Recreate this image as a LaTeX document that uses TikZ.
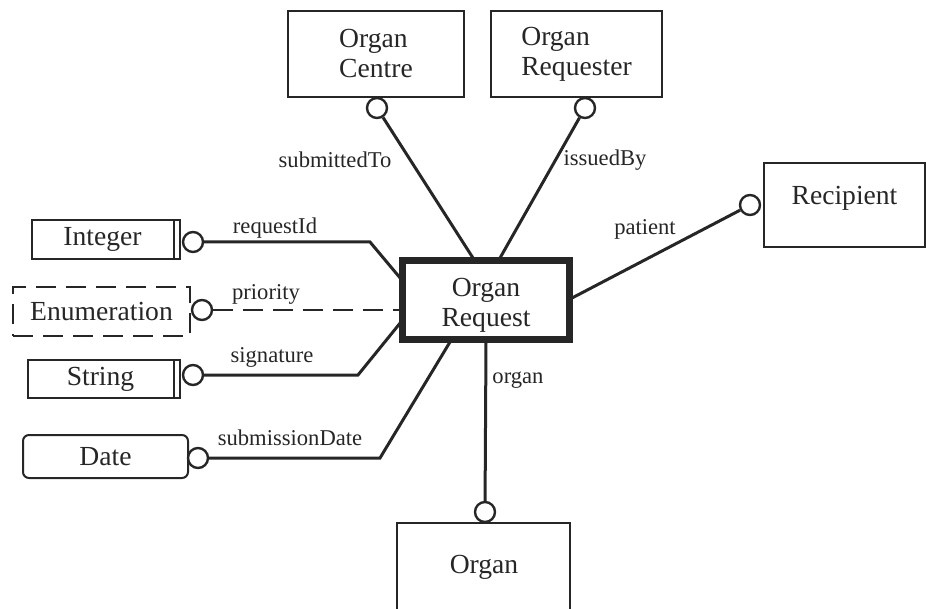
\documentclass[tikz,border=0pt]{standalone}
\usepackage{fontspec}
\setmainfont{Liberation Serif}
\begin{document}
\begin{tikzpicture}[x=0.5pt,y=-0.5pt,
  ink/.style={color=black!85},
  ent/.style={ink, draw, line width=1.2pt, inner sep=0pt, align=left,
    font=\fontsize{13.8}{15}\selectfont},
  hub/.style={ink, draw, line width=3.5pt, inner sep=0pt, align=center,
    font=\fontsize{13.8}{15}\selectfont},
  txt/.style={ink, inner sep=0pt, align=center, font=\fontsize{13.8}{15}\selectfont},
  dashbox/.style={dash pattern=on 10pt off 5pt, line width=1pt},
  knob/.style={ink, circle, draw, line width=1.2pt, fill=white,
    minimum size=10pt, inner sep=0pt},
  link/.style={ink, line width=1.5pt},
  dashlink/.style={ink, line width=1.3pt, dash pattern=on 10pt off 5pt},
  lbl/.style={ink, inner sep=0pt, font=\fontsize{11.3}{13}\selectfont}
]
\useasboundingbox (0,0) rectangle (926,609);

% entity boxes
\node[ent, minimum width=88pt, minimum height=43pt] (centre) at (376,54) {Organ\\Centre};
\node[ent, minimum width=85.5pt, minimum height=43pt] (requester) at (576.5,54) {Organ\\Requester};
\node[ent, minimum width=80.5pt, minimum height=42pt] (recipient) at (844.5,205) {};
\node[txt] (recipientText) at (844.5,198) {Recipient};
\node[hub, minimum width=83.5pt, minimum height=39.5pt] (request) at (486,300) {};
\node[txt] (requestText) at (486,305) {Organ\\Request};
\node[ent, minimum width=86.5pt, minimum height=48.5pt] (organbox) at (483.5,571.5) {};
\node[txt] (organText) at (484,567) {Organ};

% value types
\node[ent, minimum width=74pt, minimum height=19.5pt] (integer) at (106,239.5) {Integer\kern3.5pt};
\draw[ink, line width=1.1pt] ([xshift=-3.5pt]integer.north east) -- ([xshift=-3.5pt]integer.south east);
\node[ent, dashbox, minimum width=88.5pt, minimum height=24.5pt] (enum) at (101.5,311.5) {Enumeration};
\node[ent, minimum width=76pt, minimum height=19pt] (string) at (104,379) {String\kern3.5pt};
\draw[ink, line width=1.1pt] ([xshift=-3.5pt]string.north east) -- ([xshift=-3.5pt]string.south east);
\node[ent, line width=1pt, rounded corners=3pt, minimum width=82.5pt, minimum height=21.5pt] (date) at (105.5,456.5) {Date};

% bend points and ends on the central box
\coordinate (tCentre) at (473,258);
\coordinate (tReq) at (500,258);
\coordinate (tRec) at (572,298);
\coordinate (bInt) at (370,242);
\coordinate (tInt) at (401,279);
\coordinate (tEnum) at (401,310);
\coordinate (bStr) at (358,375);
\coordinate (tStr) at (401,322);
\coordinate (bDate) at (380,458);
\coordinate (tDate) at (450,342);
\coordinate (tOrgan) at (486,342);

% role knobs
\node[knob] (kCentre) at (377,108) {};
\node[knob] (kReq) at (585,108) {};
\node[knob] (kRec) at (750,205) {};
\node[knob] (kInt) at (193,242) {};
\node[knob] (kEnum) at (202,310) {};
\node[knob] (kStr) at (193,375) {};
\node[knob] (kDate) at (198,458) {};
\node[knob] (kOrgan) at (485,512) {};

% connectors
\draw[link] (kCentre) -- (tCentre);
\draw[link] (kReq) -- (tReq);
\draw[link] (kRec) -- (tRec);
\draw[link] (kInt) -- (bInt) -- (tInt);
\draw[dashlink] (kEnum) -- (tEnum);
\draw[link] (kStr) -- (bStr) -- (tStr);
\draw[link] (kDate) -- (bDate) -- (tDate);
\draw[link] (tOrgan) -- (kOrgan);

% role names
\node[lbl] (lCentre) at (335,160) {submittedTo};
\node[lbl] (lReq) at (605,160) {issuedBy};
\node[lbl] (lRec) at (645,229) {patient};
\node[lbl] (lInt) at (275,228) {requestId};
\node[lbl] (lEnum) at (266,294) {priority};
\node[lbl] (lStr) at (272,357) {signature};
\node[lbl] (lDate) at (290,438) {submissionDate};
\node[lbl] (lOrgan) at (518,380) {organ};
\end{tikzpicture}
\end{document}
